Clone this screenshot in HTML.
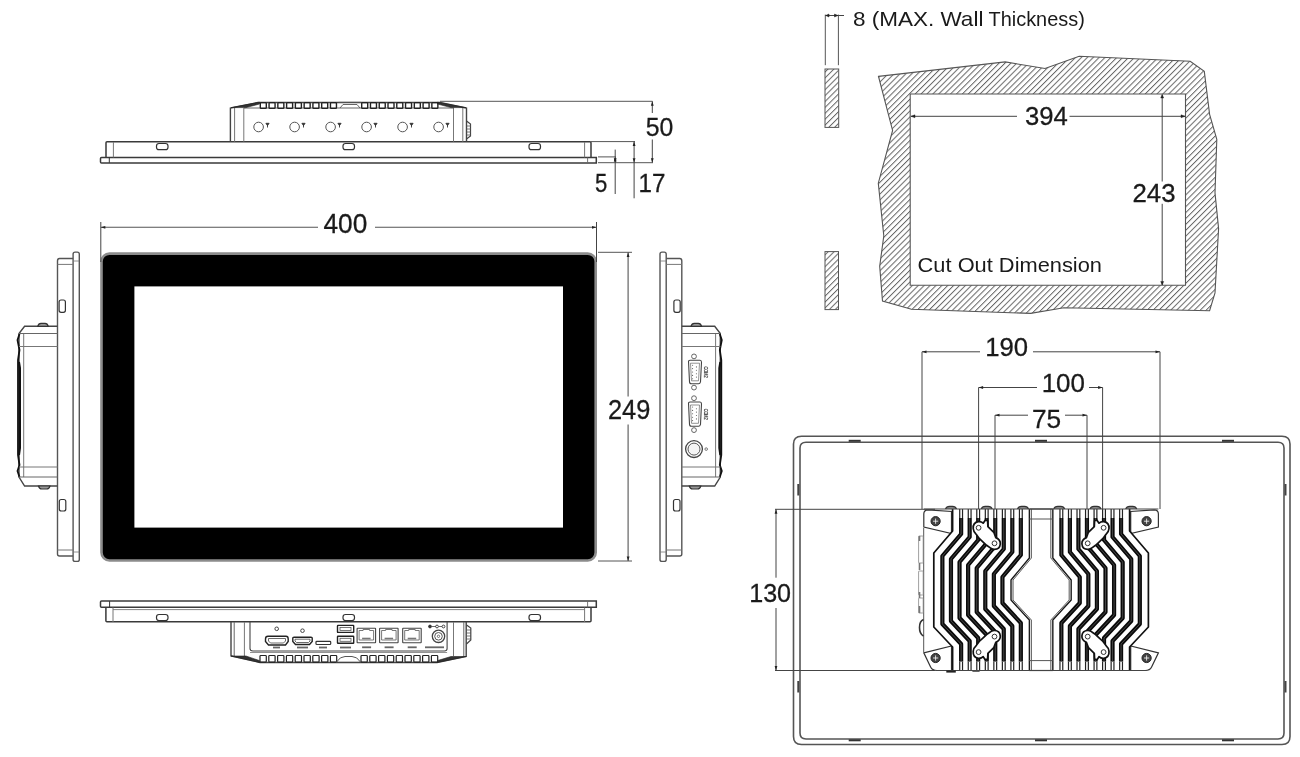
<!DOCTYPE html>
<html><head><meta charset="utf-8"><style>
html,body{margin:0;padding:0;background:#fff;}
svg{display:block;will-change:transform;}
text{font-family:"Liberation Sans",sans-serif;}
</style></head><body>
<svg width="1300" height="757" viewBox="0 0 1300 757">
<rect width="1300" height="757" fill="#fff"/>
<path d="M101.5,157.4 H596.3 V162.9 H101.5 Q100.5,162.9 100.5,161.9 V158.4 Q100.5,157.4 101.5,157.4 Z" fill="none" stroke="#3a3a3a" stroke-width="1.5" />
<line x1="109.3" y1="157.4" x2="109.3" y2="162.9" stroke="#333" stroke-width="1.0"/>
<line x1="587.6" y1="157.4" x2="587.6" y2="162.9" stroke="#666" stroke-width="0.9"/>
<path d="M107,141.7 H590 Q591,141.7 591,142.7 V157.4 M106,157.4 V142.7 Q106,141.7 107,141.7" fill="none" stroke="#3a3a3a" stroke-width="1.5" />
<line x1="113.4" y1="142" x2="113.4" y2="157.4" stroke="#777" stroke-width="1"/>
<line x1="584.6" y1="142" x2="584.6" y2="157.4" stroke="#777" stroke-width="1"/>
<rect x="156.5" y="143.5" width="11.5" height="6.2" rx="2.5" fill="none" stroke="#333" stroke-width="1.2"/>
<rect x="343" y="143.5" width="11.5" height="6.2" rx="2.5" fill="none" stroke="#333" stroke-width="1.2"/>
<rect x="529" y="143.5" width="11.5" height="6.2" rx="2.5" fill="none" stroke="#333" stroke-width="1.2"/>
<path d="M230.4,141.7 V108 L258,102.5 H440 L466.5,108 V141.7" fill="none" stroke="#444" stroke-width="1.4" />
<line x1="234.6" y1="108" x2="234.6" y2="141.7" stroke="#777" stroke-width="1"/>
<line x1="243.8" y1="108" x2="243.8" y2="141.7" stroke="#777" stroke-width="1"/>
<line x1="453.5" y1="108" x2="453.5" y2="141.7" stroke="#777" stroke-width="1"/>
<line x1="462.8" y1="108" x2="462.8" y2="141.7" stroke="#777" stroke-width="1"/>
<line x1="244" y1="108" x2="454" y2="108" stroke="#666" stroke-width="1"/>
<path d="M231,107.6 L259.5,102.2 L259.5,104 L246,107.6 Z" fill="#333" stroke="#222" stroke-width="0.6" />
<path d="M466,107.6 L437.5,102.2 L437.5,104 L451,107.6 Z" fill="#333" stroke="#222" stroke-width="0.6" />
<path d="M338.5,102.4 H361 M340,108 L343,104.5 H357 L360,108" fill="none" stroke="#555" stroke-width="0.9" />
<rect x="260.3" y="102.6" width="6" height="5.8" rx="0.8" fill="none" stroke="#222" stroke-width="1.4"/>
<rect x="269.07" y="102.6" width="6" height="5.8" rx="0.8" fill="none" stroke="#222" stroke-width="1.4"/>
<rect x="277.84000000000003" y="102.6" width="6" height="5.8" rx="0.8" fill="none" stroke="#222" stroke-width="1.4"/>
<rect x="286.61" y="102.6" width="6" height="5.8" rx="0.8" fill="none" stroke="#222" stroke-width="1.4"/>
<rect x="295.38" y="102.6" width="6" height="5.8" rx="0.8" fill="none" stroke="#222" stroke-width="1.4"/>
<rect x="304.15000000000003" y="102.6" width="6" height="5.8" rx="0.8" fill="none" stroke="#222" stroke-width="1.4"/>
<rect x="312.92" y="102.6" width="6" height="5.8" rx="0.8" fill="none" stroke="#222" stroke-width="1.4"/>
<rect x="321.69" y="102.6" width="6" height="5.8" rx="0.8" fill="none" stroke="#222" stroke-width="1.4"/>
<rect x="330.46" y="102.6" width="6" height="5.8" rx="0.8" fill="none" stroke="#222" stroke-width="1.4"/>
<rect x="361.7" y="102.6" width="6" height="5.8" rx="0.8" fill="none" stroke="#222" stroke-width="1.4"/>
<rect x="370.46999999999997" y="102.6" width="6" height="5.8" rx="0.8" fill="none" stroke="#222" stroke-width="1.4"/>
<rect x="379.24" y="102.6" width="6" height="5.8" rx="0.8" fill="none" stroke="#222" stroke-width="1.4"/>
<rect x="388.01" y="102.6" width="6" height="5.8" rx="0.8" fill="none" stroke="#222" stroke-width="1.4"/>
<rect x="396.78" y="102.6" width="6" height="5.8" rx="0.8" fill="none" stroke="#222" stroke-width="1.4"/>
<rect x="405.55" y="102.6" width="6" height="5.8" rx="0.8" fill="none" stroke="#222" stroke-width="1.4"/>
<rect x="414.32" y="102.6" width="6" height="5.8" rx="0.8" fill="none" stroke="#222" stroke-width="1.4"/>
<rect x="423.09" y="102.6" width="6" height="5.8" rx="0.8" fill="none" stroke="#222" stroke-width="1.4"/>
<rect x="431.85999999999996" y="102.6" width="6" height="5.8" rx="0.8" fill="none" stroke="#222" stroke-width="1.4"/>
<circle cx="258.6" cy="127" r="4.8" fill="none" stroke="#555" stroke-width="1.0"/>
<path d="M265.90000000000003,123.3 H269.1 L267.5,125.6 Z M267.5,125 V127.5" fill="#333" stroke="#333" stroke-width="0.9" />
<circle cx="294.6" cy="127" r="4.8" fill="none" stroke="#555" stroke-width="1.0"/>
<path d="M301.90000000000003,123.3 H305.1 L303.5,125.6 Z M303.5,125 V127.5" fill="#333" stroke="#333" stroke-width="0.9" />
<circle cx="330.6" cy="127" r="4.8" fill="none" stroke="#555" stroke-width="1.0"/>
<path d="M337.90000000000003,123.3 H341.1 L339.5,125.6 Z M339.5,125 V127.5" fill="#333" stroke="#333" stroke-width="0.9" />
<circle cx="366.6" cy="127" r="4.8" fill="none" stroke="#555" stroke-width="1.0"/>
<path d="M373.90000000000003,123.3 H377.1 L375.5,125.6 Z M375.5,125 V127.5" fill="#333" stroke="#333" stroke-width="0.9" />
<circle cx="402.6" cy="127" r="4.8" fill="none" stroke="#555" stroke-width="1.0"/>
<path d="M409.90000000000003,123.3 H413.1 L411.5,125.6 Z M411.5,125 V127.5" fill="#333" stroke="#333" stroke-width="0.9" />
<circle cx="438.6" cy="127" r="4.8" fill="none" stroke="#555" stroke-width="1.0"/>
<path d="M445.90000000000003,123.3 H449.1 L447.5,125.6 Z M447.5,125 V127.5" fill="#333" stroke="#333" stroke-width="0.9" />
<path d="M466.5,121 L470.5,124 V136 L466.5,139" fill="none" stroke="#444" stroke-width="1.2" />
<line x1="466.5" y1="126" x2="471" y2="126" stroke="#555" stroke-width="0.8"/>
<line x1="466.5" y1="129" x2="471" y2="129" stroke="#555" stroke-width="0.8"/>
<line x1="466.5" y1="132" x2="471" y2="132" stroke="#555" stroke-width="0.8"/>
<line x1="466.5" y1="135" x2="471" y2="135" stroke="#555" stroke-width="0.8"/>
<line x1="440" y1="101.3" x2="652.5" y2="101.3" stroke="#555" stroke-width="1"/>
<line x1="652.3" y1="101.3" x2="652.3" y2="113" stroke="#444" stroke-width="1"/>
<line x1="652.3" y1="139.5" x2="652.3" y2="162.7" stroke="#444" stroke-width="1"/>
<line x1="591" y1="141.6" x2="635" y2="141.6" stroke="#555" stroke-width="1"/>
<line x1="598" y1="156.9" x2="616" y2="156.9" stroke="#555" stroke-width="1"/>
<line x1="598" y1="162.7" x2="653" y2="162.7" stroke="#555" stroke-width="1"/>
<line x1="634.1" y1="141.6" x2="634.1" y2="198.3" stroke="#444" stroke-width="1"/>
<line x1="615.2" y1="149.6" x2="615.2" y2="194" stroke="#444" stroke-width="1"/>
<path d="M652.30,101.30 L650.90,105.80 L653.70,105.80 Z" fill="#222"/>
<path d="M652.30,162.70 L650.90,158.20 L653.70,158.20 Z" fill="#222"/>
<path d="M634.10,141.60 L632.70,146.10 L635.50,146.10 Z" fill="#222"/>
<path d="M634.10,162.70 L632.70,158.20 L635.50,158.20 Z" fill="#222"/>
<path d="M615.20,156.90 L613.80,161.40 L616.60,161.40 Z" fill="#222"/>
<path d="M615.20,162.70 L613.80,158.20 L616.60,158.20 Z" fill="#222"/>
<text x="645.8" y="135.9" font-size="26" fill="#1a1a1a" stroke="#1a1a1a" stroke-width="0.3" textLength="27.600000000000023" lengthAdjust="spacingAndGlyphs" >50</text>
<text x="594.9" y="191.7" font-size="26" fill="#1a1a1a" stroke="#1a1a1a" stroke-width="0.3" textLength="12.300000000000068" lengthAdjust="spacingAndGlyphs" >5</text>
<text x="638.5" y="191.7" font-size="26" fill="#1a1a1a" stroke="#1a1a1a" stroke-width="0.3" textLength="26.899999999999977" lengthAdjust="spacingAndGlyphs" >17</text>
<rect x="101.5" y="253.6" width="494.2" height="306.9" rx="8" fill="#000" stroke="#8c8c8c" stroke-width="2.6"/>
<rect x="134.4" y="286.4" width="428.6" height="241.2" rx="0" fill="#fff" stroke="none" stroke-width="0"/>
<line x1="100.8" y1="222" x2="100.8" y2="262" stroke="#444" stroke-width="1"/>
<line x1="596.5" y1="222" x2="596.5" y2="262" stroke="#444" stroke-width="1"/>
<line x1="100.8" y1="227.3" x2="318" y2="227.3" stroke="#555" stroke-width="1.1"/>
<line x1="375" y1="227.3" x2="596.5" y2="227.3" stroke="#555" stroke-width="1.1"/>
<path d="M100.80,227.30 L105.30,225.90 L105.30,228.70 Z" fill="#222"/>
<path d="M596.50,227.30 L592.00,225.90 L592.00,228.70 Z" fill="#222"/>
<text x="323.5" y="232.7" font-size="27" fill="#1a1a1a" stroke="#1a1a1a" stroke-width="0.3" textLength="43.80000000000001" lengthAdjust="spacingAndGlyphs" >400</text>
<line x1="598" y1="252.3" x2="632" y2="252.3" stroke="#555" stroke-width="1"/>
<line x1="598" y1="561" x2="632" y2="561" stroke="#555" stroke-width="1"/>
<line x1="628.1" y1="252.3" x2="628.1" y2="396.6" stroke="#555" stroke-width="1.1"/>
<line x1="628.1" y1="424.4" x2="628.1" y2="561" stroke="#555" stroke-width="1.1"/>
<path d="M628.10,252.60 L626.70,257.10 L629.50,257.10 Z" fill="#222"/>
<path d="M628.10,561.00 L626.70,556.50 L629.50,556.50 Z" fill="#222"/>
<text x="607.9" y="419.2" font-size="27" fill="#1a1a1a" stroke="#1a1a1a" stroke-width="0.3" textLength="42.39999999999998" lengthAdjust="spacingAndGlyphs" >249</text>
<rect x="73.1" y="252.1" width="6.2" height="309.3" rx="2" fill="none" stroke="#555" stroke-width="1.4"/><line x1="73.1" y1="261" x2="79.3" y2="261" stroke="#777" stroke-width="0.8"/><line x1="73.1" y1="552" x2="79.3" y2="552" stroke="#777" stroke-width="0.8"/><path d="M73.1,258.5 H59.5 Q57.5,258.5 57.5,261 V554 Q57.5,556 59.5,556 H73.1" fill="none" stroke="#555" stroke-width="1.4" /><line x1="57.5" y1="264.4" x2="73.1" y2="264.4" stroke="#777" stroke-width="1"/><line x1="57.5" y1="550" x2="73.1" y2="550" stroke="#777" stroke-width="1"/><rect x="59.1" y="300" width="6.3" height="12.3" rx="2" fill="none" stroke="#333" stroke-width="1.2"/><rect x="59.3" y="499.5" width="6.5" height="11.5" rx="2" fill="none" stroke="#333" stroke-width="1.2"/><path d="M57.5,326.3 H24.6 L19,333.5 V477 L24.6,486 H57.5" fill="none" stroke="#444" stroke-width="1.4" /><path d="M19.5,334 L17.5,340 L19.5,350 L18,360 V455 L19.5,465 L17.5,471 L19.5,477" fill="none" stroke="#111" stroke-width="1.8" /><path d="M19,362 L20,368 V448 L19,455" fill="none" stroke="#111" stroke-width="2.0" /><line x1="23.7" y1="333" x2="23.7" y2="477" stroke="#777" stroke-width="1"/><line x1="19" y1="333.5" x2="57.5" y2="333.5" stroke="#666" stroke-width="1"/><line x1="19" y1="346.5" x2="57.5" y2="346.5" stroke="#777" stroke-width="1"/><line x1="19" y1="467" x2="57.5" y2="467" stroke="#777" stroke-width="1"/><line x1="19" y1="477" x2="57.5" y2="477" stroke="#666" stroke-width="1"/><path d="M37.7,326.3 Q38.5,323.3 41,323.3 H45 Q47.5,323.3 48.3,326.3 Z" fill="#999" stroke="#333" stroke-width="1.2" /><path d="M38.5,486 Q39.3,489 41.8,489 H46.7 Q49.2,489 50,486 Z" fill="#999" stroke="#333" stroke-width="1.2" />
<g transform="translate(739.3,0) scale(-1,1)"><rect x="73.1" y="252.1" width="6.2" height="309.3" rx="2" fill="none" stroke="#555" stroke-width="1.4"/><line x1="73.1" y1="261" x2="79.3" y2="261" stroke="#777" stroke-width="0.8"/><line x1="73.1" y1="552" x2="79.3" y2="552" stroke="#777" stroke-width="0.8"/><path d="M73.1,258.5 H59.5 Q57.5,258.5 57.5,261 V554 Q57.5,556 59.5,556 H73.1" fill="none" stroke="#555" stroke-width="1.4" /><line x1="57.5" y1="264.4" x2="73.1" y2="264.4" stroke="#777" stroke-width="1"/><line x1="57.5" y1="550" x2="73.1" y2="550" stroke="#777" stroke-width="1"/><rect x="59.1" y="300" width="6.3" height="12.3" rx="2" fill="none" stroke="#333" stroke-width="1.2"/><rect x="59.3" y="499.5" width="6.5" height="11.5" rx="2" fill="none" stroke="#333" stroke-width="1.2"/><path d="M57.5,326.3 H24.6 L19,333.5 V477 L24.6,486 H57.5" fill="none" stroke="#444" stroke-width="1.4" /><path d="M19.5,334 L17.5,340 L19.5,350 L18,360 V455 L19.5,465 L17.5,471 L19.5,477" fill="none" stroke="#111" stroke-width="1.8" /><path d="M19,362 L20,368 V448 L19,455" fill="none" stroke="#111" stroke-width="2.0" /><line x1="23.7" y1="333" x2="23.7" y2="477" stroke="#777" stroke-width="1"/><line x1="19" y1="333.5" x2="57.5" y2="333.5" stroke="#666" stroke-width="1"/><line x1="19" y1="346.5" x2="57.5" y2="346.5" stroke="#777" stroke-width="1"/><line x1="19" y1="467" x2="57.5" y2="467" stroke="#777" stroke-width="1"/><line x1="19" y1="477" x2="57.5" y2="477" stroke="#666" stroke-width="1"/><path d="M37.7,326.3 Q38.5,323.3 41,323.3 H45 Q47.5,323.3 48.3,326.3 Z" fill="#999" stroke="#333" stroke-width="1.2" /><path d="M38.5,486 Q39.3,489 41.8,489 H46.7 Q49.2,489 50,486 Z" fill="#999" stroke="#333" stroke-width="1.2" /></g>
<path d="M688.5,361.2 Q688.5,360.2 690,360.2 H700 Q701.5,360.2 701.5,362.2 L700.5,381.8 Q700,383.8 698.5,383.8 H691.5 Q689.5,383.8 689.5,381.8 Z" fill="none" stroke="#444" stroke-width="1.1" />
<path d="M690.5,363.2 H699.5 L698.5,380.8 H691.5 Z" fill="none" stroke="#666" stroke-width="0.7" />
<circle cx="694" cy="356.4" r="2.4" fill="none" stroke="#555" stroke-width="0.9"/>
<circle cx="694" cy="387.6" r="2.4" fill="none" stroke="#555" stroke-width="0.9"/>
<circle cx="692.6" cy="365.2" r="0.55" fill="#555" stroke="none" stroke-width="0"/>
<circle cx="692.6" cy="368.59999999999997" r="0.55" fill="#555" stroke="none" stroke-width="0"/>
<circle cx="692.6" cy="372.0" r="0.55" fill="#555" stroke="none" stroke-width="0"/>
<circle cx="692.6" cy="375.4" r="0.55" fill="#555" stroke="none" stroke-width="0"/>
<circle cx="692.6" cy="378.8" r="0.55" fill="#555" stroke="none" stroke-width="0"/>
<circle cx="696.4" cy="366.9" r="0.55" fill="#555" stroke="none" stroke-width="0"/>
<circle cx="696.4" cy="370.29999999999995" r="0.55" fill="#555" stroke="none" stroke-width="0"/>
<circle cx="696.4" cy="373.7" r="0.55" fill="#555" stroke="none" stroke-width="0"/>
<circle cx="696.4" cy="377.09999999999997" r="0.55" fill="#555" stroke="none" stroke-width="0"/>
<text x="0" y="0" font-size="5" fill="#333" stroke="#333" stroke-width="0.2" transform="translate(703.6,366.5) rotate(90)" textLength="11" lengthAdjust="spacingAndGlyphs">COM2</text>
<path d="M688.5,403 Q688.5,402 690,402 H700 Q701.5,402 701.5,404 L700.5,424.3 Q700,426.3 698.5,426.3 H691.5 Q689.5,426.3 689.5,424.3 Z" fill="none" stroke="#444" stroke-width="1.1" />
<path d="M690.5,405 H699.5 L698.5,423.3 H691.5 Z" fill="none" stroke="#666" stroke-width="0.7" />
<circle cx="694" cy="398.2" r="2.4" fill="none" stroke="#555" stroke-width="0.9"/>
<circle cx="694" cy="430.1" r="2.4" fill="none" stroke="#555" stroke-width="0.9"/>
<circle cx="692.6" cy="407.0" r="0.55" fill="#555" stroke="none" stroke-width="0"/>
<circle cx="692.6" cy="410.4" r="0.55" fill="#555" stroke="none" stroke-width="0"/>
<circle cx="692.6" cy="413.8" r="0.55" fill="#555" stroke="none" stroke-width="0"/>
<circle cx="692.6" cy="417.2" r="0.55" fill="#555" stroke="none" stroke-width="0"/>
<circle cx="692.6" cy="420.6" r="0.55" fill="#555" stroke="none" stroke-width="0"/>
<circle cx="696.4" cy="408.7" r="0.55" fill="#555" stroke="none" stroke-width="0"/>
<circle cx="696.4" cy="412.09999999999997" r="0.55" fill="#555" stroke="none" stroke-width="0"/>
<circle cx="696.4" cy="415.5" r="0.55" fill="#555" stroke="none" stroke-width="0"/>
<circle cx="696.4" cy="418.9" r="0.55" fill="#555" stroke="none" stroke-width="0"/>
<text x="0" y="0" font-size="5" fill="#333" stroke="#333" stroke-width="0.2" transform="translate(703.6,408.65) rotate(90)" textLength="11" lengthAdjust="spacingAndGlyphs">COM2</text>
<circle cx="694" cy="449.1" r="8.4" fill="none" stroke="#444" stroke-width="1.3"/>
<circle cx="694" cy="449.1" r="6.0" fill="#f4f4f4" stroke="#555" stroke-width="1"/>
<circle cx="706.2" cy="449.1" r="1.3" fill="none" stroke="#555" stroke-width="0.8"/>
<path d="M101.5,601.1 H596.3 V607.3 H101.5 Q100.5,607.3 100.5,606.3 V602.1 Q100.5,601.1 101.5,601.1 Z" fill="none" stroke="#3a3a3a" stroke-width="1.5" />
<line x1="109.6" y1="601.1" x2="109.6" y2="607.3" stroke="#333" stroke-width="1.0"/>
<line x1="113" y1="609.6" x2="584.6" y2="609.6" stroke="#777" stroke-width="0.9"/>
<line x1="587.6" y1="601" x2="587.6" y2="607.5" stroke="#666" stroke-width="0.9"/>
<path d="M105.9,607.3 V620.7 Q105.9,621.7 106.9,621.7 H590 Q591,621.7 591,620.7 V607.3" fill="none" stroke="#3a3a3a" stroke-width="1.5" />
<line x1="113" y1="607.5" x2="113" y2="622" stroke="#777" stroke-width="1"/>
<line x1="584.6" y1="607.5" x2="584.6" y2="622" stroke="#777" stroke-width="1"/>
<rect x="156.5" y="614.5" width="11.5" height="6.1" rx="2.5" fill="none" stroke="#333" stroke-width="1.2"/>
<rect x="343" y="614.5" width="11.5" height="6.1" rx="2.5" fill="none" stroke="#333" stroke-width="1.2"/>
<rect x="529" y="614.5" width="11.5" height="6.1" rx="2.5" fill="none" stroke="#333" stroke-width="1.2"/>
<path d="M231,622 V656 L260,662.5 H437 L466.2,656.5 V622" fill="none" stroke="#444" stroke-width="1.4" />
<line x1="234.2" y1="622" x2="234.2" y2="656" stroke="#666" stroke-width="1"/>
<line x1="244.4" y1="622" x2="244.4" y2="656" stroke="#777" stroke-width="1"/>
<line x1="453.5" y1="622" x2="453.5" y2="656" stroke="#777" stroke-width="1"/>
<line x1="463.8" y1="622" x2="463.8" y2="656" stroke="#666" stroke-width="1"/>
<path d="M250,622 V648.5 Q250,651 253,651 H444.5 Q447.1,651 447.1,648.5 V622" fill="none" stroke="#444" stroke-width="1.1" />
<line x1="250" y1="652.5" x2="447.1" y2="652.5" stroke="#777" stroke-width="0.8"/>
<rect x="260.0" y="655.5" width="6.3" height="6.6" rx="0.8" fill="none" stroke="#222" stroke-width="1.2"/>
<rect x="268.8" y="655.5" width="6.3" height="6.6" rx="0.8" fill="none" stroke="#222" stroke-width="1.2"/>
<rect x="277.6" y="655.5" width="6.3" height="6.6" rx="0.8" fill="none" stroke="#222" stroke-width="1.2"/>
<rect x="286.4" y="655.5" width="6.3" height="6.6" rx="0.8" fill="none" stroke="#222" stroke-width="1.2"/>
<rect x="295.2" y="655.5" width="6.3" height="6.6" rx="0.8" fill="none" stroke="#222" stroke-width="1.2"/>
<rect x="304.0" y="655.5" width="6.3" height="6.6" rx="0.8" fill="none" stroke="#222" stroke-width="1.2"/>
<rect x="312.8" y="655.5" width="6.3" height="6.6" rx="0.8" fill="none" stroke="#222" stroke-width="1.2"/>
<rect x="321.6" y="655.5" width="6.3" height="6.6" rx="0.8" fill="none" stroke="#222" stroke-width="1.2"/>
<rect x="330.4" y="655.5" width="6.3" height="6.6" rx="0.8" fill="none" stroke="#222" stroke-width="1.2"/>
<rect x="361.0" y="655.5" width="6.3" height="6.6" rx="0.8" fill="none" stroke="#222" stroke-width="1.2"/>
<rect x="369.8" y="655.5" width="6.3" height="6.6" rx="0.8" fill="none" stroke="#222" stroke-width="1.2"/>
<rect x="378.6" y="655.5" width="6.3" height="6.6" rx="0.8" fill="none" stroke="#222" stroke-width="1.2"/>
<rect x="387.4" y="655.5" width="6.3" height="6.6" rx="0.8" fill="none" stroke="#222" stroke-width="1.2"/>
<rect x="396.2" y="655.5" width="6.3" height="6.6" rx="0.8" fill="none" stroke="#222" stroke-width="1.2"/>
<rect x="405.0" y="655.5" width="6.3" height="6.6" rx="0.8" fill="none" stroke="#222" stroke-width="1.2"/>
<rect x="413.8" y="655.5" width="6.3" height="6.6" rx="0.8" fill="none" stroke="#222" stroke-width="1.2"/>
<rect x="422.6" y="655.5" width="6.3" height="6.6" rx="0.8" fill="none" stroke="#222" stroke-width="1.2"/>
<rect x="431.4" y="655.5" width="6.3" height="6.6" rx="0.8" fill="none" stroke="#222" stroke-width="1.2"/>
<path d="M336.5,662 Q340,656.5 345,656.5 H352 Q357,656.5 360.5,662" fill="none" stroke="#555" stroke-width="1" />
<path d="M231,656 L259.5,662.4 L259.5,660.6 L246,656 Z" fill="#333" stroke="#222" stroke-width="0.6" />
<path d="M466.2,656.5 L437.5,662.4 L437.5,660.6 L451,656.5 Z" fill="#333" stroke="#222" stroke-width="0.6" />
<line x1="336" y1="662.4" x2="361" y2="662.4" stroke="#444" stroke-width="1.0"/>
<path d="M466.5,625 L470.8,628 V640 L466.5,644" fill="none" stroke="#444" stroke-width="1.2" />
<line x1="466.5" y1="630" x2="471" y2="630" stroke="#555" stroke-width="0.8"/>
<line x1="466.5" y1="633" x2="471" y2="633" stroke="#555" stroke-width="0.8"/>
<line x1="466.5" y1="636" x2="471" y2="636" stroke="#555" stroke-width="0.8"/>
<line x1="466.5" y1="639" x2="471" y2="639" stroke="#555" stroke-width="0.8"/>
<path d="M265.5,639 Q265.5,636.3 268,636.3 H286 Q288.2,636.3 288.2,639 V641.5 L285.5,645 H268.5 L265.5,641.5 Z" fill="none" stroke="#222" stroke-width="1.4" />
<path d="M268.5,638.5 H285.5 V641 L283.5,643 H270.5 L268.5,641 Z" fill="none" stroke="#444" stroke-width="0.8" />
<circle cx="276.7" cy="628.8" r="1.8" fill="none" stroke="#444" stroke-width="1"/>
<path d="M292.8,638 Q292.8,637.2 294,637.2 H311 Q312.2,637.2 312.2,638 V641.5 L309.5,644.5 H295.5 L292.8,641.5 Z" fill="none" stroke="#222" stroke-width="1.4" />
<path d="M295,639.2 H310 V641 L308.5,642.5 H296.5 L295,641 Z" fill="none" stroke="#444" stroke-width="0.8" />
<circle cx="302.5" cy="630.7" r="1.8" fill="none" stroke="#444" stroke-width="1"/>
<rect x="316" y="641.3" width="14.7" height="3.2" rx="0.8" fill="none" stroke="#333" stroke-width="1.2"/>
<line x1="273" y1="647.5" x2="280" y2="647.5" stroke="#666" stroke-width="1.8"/>
<line x1="297" y1="647.5" x2="308" y2="647.5" stroke="#666" stroke-width="1.8"/>
<line x1="319" y1="647.5" x2="327" y2="647.5" stroke="#666" stroke-width="1.8"/>
<line x1="340" y1="647.5" x2="351" y2="647.5" stroke="#666" stroke-width="1.8"/>
<rect x="337.5" y="625.4" width="16.2" height="7" rx="0.5" fill="none" stroke="#222" stroke-width="1.4"/>
<rect x="340" y="627.4" width="11" height="3" rx="0" fill="none" stroke="#555" stroke-width="0.8"/>
<rect x="337.5" y="636.3" width="16.2" height="7" rx="0.5" fill="none" stroke="#222" stroke-width="1.4"/>
<rect x="340" y="638.3" width="11" height="3" rx="0" fill="none" stroke="#555" stroke-width="0.8"/>
<rect x="357.1" y="628.3" width="18.5" height="14.4" rx="0.5" fill="none" stroke="#444" stroke-width="1.1"/>
<path d="M359.1,630.5 H363.1 V629.5 H369.6 V630.5 H373.6 V640 H359.1 Z" fill="none" stroke="#555" stroke-width="0.8" />
<line x1="362.1" y1="638.5" x2="370.6" y2="638.5" stroke="#777" stroke-width="1.6"/>
<line x1="362.1" y1="647.3" x2="371.1" y2="647.3" stroke="#666" stroke-width="1.8"/>
<rect x="379.6" y="628.3" width="18.5" height="14.4" rx="0.5" fill="none" stroke="#444" stroke-width="1.1"/>
<path d="M381.6,630.5 H385.6 V629.5 H392.1 V630.5 H396.1 V640 H381.6 Z" fill="none" stroke="#555" stroke-width="0.8" />
<line x1="384.6" y1="638.5" x2="393.1" y2="638.5" stroke="#777" stroke-width="1.6"/>
<line x1="384.6" y1="647.3" x2="393.6" y2="647.3" stroke="#666" stroke-width="1.8"/>
<rect x="402.7" y="628.3" width="18.5" height="14.4" rx="0.5" fill="none" stroke="#444" stroke-width="1.1"/>
<path d="M404.7,630.5 H408.7 V629.5 H415.2 V630.5 H419.2 V640 H404.7 Z" fill="none" stroke="#555" stroke-width="0.8" />
<line x1="407.7" y1="638.5" x2="416.2" y2="638.5" stroke="#777" stroke-width="1.6"/>
<line x1="407.7" y1="647.3" x2="416.7" y2="647.3" stroke="#666" stroke-width="1.8"/>
<circle cx="438.5" cy="636.3" r="6.2" fill="none" stroke="#444" stroke-width="1.3"/>
<circle cx="438.5" cy="636.3" r="3.8" fill="none" stroke="#555" stroke-width="1"/>
<circle cx="438.5" cy="636.3" r="1.2" fill="none" stroke="#555" stroke-width="0.8"/>
<circle cx="430" cy="626.5" r="1.4" fill="#333" stroke="#333" stroke-width="1"/>
<circle cx="437" cy="626.5" r="1.4" fill="none" stroke="#444" stroke-width="1"/>
<circle cx="443.5" cy="626.5" r="1.4" fill="none" stroke="#444" stroke-width="1"/>
<line x1="431.5" y1="626.5" x2="436" y2="626.5" stroke="#444" stroke-width="0.8"/>
<line x1="438.5" y1="626.5" x2="442" y2="626.5" stroke="#444" stroke-width="0.8"/>
<line x1="425" y1="647.3" x2="444" y2="647.3" stroke="#666" stroke-width="1.8"/>
<defs><pattern id="hatch" patternUnits="userSpaceOnUse" width="4.17" height="4.17" patternTransform="rotate(45)"><rect width="4.17" height="4.17" fill="#fff"/><line x1="0.5" y1="0" x2="0.5" y2="4.17" stroke="#666" stroke-width="1.0"/></pattern></defs>
<rect x="825" y="69" width="13.7" height="58.4" rx="0" fill="url(#hatch)" stroke="#555" stroke-width="1"/>
<rect x="825" y="251.6" width="13.5" height="58" rx="0" fill="url(#hatch)" stroke="#555" stroke-width="1"/>
<line x1="825.3" y1="14.6" x2="825.3" y2="65.2" stroke="#555" stroke-width="1"/>
<line x1="838.4" y1="14.6" x2="838.4" y2="65.2" stroke="#555" stroke-width="1"/>
<line x1="825.3" y1="15.5" x2="844" y2="15.5" stroke="#444" stroke-width="1"/>
<path d="M829,14 L825.8,15.5 L829,17 Z" fill="#222" stroke="#222" stroke-width="0.5" />
<path d="M834.5,14 L837.8,15.5 L834.5,17 Z" fill="#222" stroke="#222" stroke-width="0.5" />
<text x="852.9" y="25.8" font-size="21" fill="#1a1a1a" stroke="#1a1a1a" stroke-width="0.0" textLength="130.5" lengthAdjust="spacingAndGlyphs" >8 (MAX. Wall</text>
<text x="988.5" y="25.8" font-size="21" fill="#1a1a1a" stroke="#1a1a1a" stroke-width="0.0" textLength="96.29999999999995" lengthAdjust="spacingAndGlyphs" >Thickness)</text>
<path d="M878.5,76.4 L1005.2,61.9 L1045,68.5 L1079.2,56.2 L1190.2,61.3 L1204.3,71.4 L1209.6,114.3 L1216.8,139.3 L1215,192.9 L1218.6,228.6 L1215,292.9 L1209.6,310.7 L1063.9,307.8 L1030.6,313.4 L911.5,309.2 L882.5,301 L879.7,266.3 L883.8,235.8 L878.3,183.2 L892.6,130.4 Z M910.2,94 H1185.5 V285.3 H910.2 Z" fill="url(#hatch)" stroke="#555" stroke-width="1.1" fill-rule="evenodd"/>
<line x1="911" y1="116.3" x2="1017" y2="116.3" stroke="#444" stroke-width="1"/>
<line x1="1069.5" y1="116.3" x2="1185" y2="116.3" stroke="#444" stroke-width="1"/>
<path d="M915,114.8 L911,116.3 L915,117.8 Z" fill="#222" stroke="#222" stroke-width="0.4" />
<path d="M1181,114.8 L1185,116.3 L1181,117.8 Z" fill="#222" stroke="#222" stroke-width="0.4" />
<text x="1025" y="125.4" font-size="26" fill="#1a1a1a" stroke="#1a1a1a" stroke-width="0.3" textLength="42.799999999999955" lengthAdjust="spacingAndGlyphs" >394</text>
<line x1="1162.2" y1="94.5" x2="1162.2" y2="181.5" stroke="#444" stroke-width="1"/>
<line x1="1162.2" y1="203.8" x2="1162.2" y2="285" stroke="#444" stroke-width="1"/>
<path d="M1160.7,98 L1162.2,94.5 L1163.7,98 Z" fill="#222" stroke="#222" stroke-width="0.4" />
<path d="M1160.7,281.5 L1162.2,285 L1163.7,281.5 Z" fill="#222" stroke="#222" stroke-width="0.4" />
<text x="1132.5" y="202.1" font-size="26" fill="#1a1a1a" stroke="#1a1a1a" stroke-width="0.3" textLength="43.0" lengthAdjust="spacingAndGlyphs" >243</text>
<text x="917.6" y="271.8" font-size="21" fill="#1a1a1a" stroke="#1a1a1a" stroke-width="0.0" textLength="184.39999999999998" lengthAdjust="spacingAndGlyphs" >Cut Out Dimension</text>
<path d="M801.5,436.2 H1282 Q1290,436.2 1290,444 V736.5 Q1290,744.5 1282,744.5 H801.5 Q793.5,744.5 793.5,736.5 V444 Q793.5,436.2 801.5,436.2 Z" fill="none" stroke="#555" stroke-width="1.6" />
<path d="M806,442.2 H1278 Q1284,442.2 1284,448 V733 Q1284,739 1278,739 H806 Q800,739 800,733 V448 Q800,442.2 806,442.2 Z" fill="none" stroke="#555" stroke-width="1.6" />
<line x1="848.7" y1="440.8" x2="860.7" y2="440.8" stroke="#333" stroke-width="2"/>
<line x1="848.7" y1="740.3" x2="860.7" y2="740.3" stroke="#333" stroke-width="2"/>
<line x1="1035" y1="440.8" x2="1047" y2="440.8" stroke="#333" stroke-width="2"/>
<line x1="1035" y1="740.3" x2="1047" y2="740.3" stroke="#333" stroke-width="2"/>
<line x1="1222" y1="440.8" x2="1234" y2="440.8" stroke="#333" stroke-width="2"/>
<line x1="1222" y1="740.3" x2="1234" y2="740.3" stroke="#333" stroke-width="2"/>
<line x1="798.3" y1="484" x2="798.3" y2="495.5" stroke="#444" stroke-width="2"/>
<line x1="1285.5" y1="484" x2="1285.5" y2="495.5" stroke="#444" stroke-width="2"/>
<line x1="798.3" y1="681" x2="798.3" y2="692.5" stroke="#444" stroke-width="2"/>
<line x1="1285.5" y1="681" x2="1285.5" y2="692.5" stroke="#444" stroke-width="2"/>
<line x1="922" y1="351.8" x2="922" y2="509" stroke="#444" stroke-width="1"/>
<line x1="1160" y1="351.8" x2="1160" y2="509" stroke="#444" stroke-width="1"/>
<line x1="922" y1="351.8" x2="980" y2="351.8" stroke="#444" stroke-width="1"/>
<line x1="1033" y1="351.8" x2="1160" y2="351.8" stroke="#444" stroke-width="1"/>
<path d="M922.00,351.80 L926.50,350.40 L926.50,353.20 Z" fill="#222"/>
<path d="M1160.00,351.80 L1155.50,350.40 L1155.50,353.20 Z" fill="#222"/>
<text x="985.2" y="356.1" font-size="26" fill="#1a1a1a" stroke="#1a1a1a" stroke-width="0.3" textLength="42.899999999999864" lengthAdjust="spacingAndGlyphs" >190</text>
<line x1="978.6" y1="387.5" x2="978.6" y2="528" stroke="#444" stroke-width="1"/>
<line x1="1102.6" y1="387.5" x2="1102.6" y2="528" stroke="#444" stroke-width="1"/>
<line x1="978.6" y1="387.5" x2="1037" y2="387.5" stroke="#444" stroke-width="1"/>
<line x1="1089" y1="387.5" x2="1102.6" y2="387.5" stroke="#444" stroke-width="1"/>
<path d="M978.60,387.50 L983.10,386.10 L983.10,388.90 Z" fill="#222"/>
<path d="M1102.60,387.50 L1098.10,386.10 L1098.10,388.90 Z" fill="#222"/>
<text x="1041.7" y="392.4" font-size="26" fill="#1a1a1a" stroke="#1a1a1a" stroke-width="0.3" textLength="43.299999999999955" lengthAdjust="spacingAndGlyphs" >100</text>
<line x1="995" y1="415.2" x2="995" y2="543" stroke="#444" stroke-width="1"/>
<line x1="1087" y1="415.2" x2="1087" y2="543" stroke="#444" stroke-width="1"/>
<line x1="995" y1="415.2" x2="1028" y2="415.2" stroke="#444" stroke-width="1"/>
<line x1="1065" y1="415.2" x2="1087" y2="415.2" stroke="#444" stroke-width="1"/>
<path d="M995.00,415.20 L999.50,413.80 L999.50,416.60 Z" fill="#222"/>
<path d="M1087.00,415.20 L1082.50,413.80 L1082.50,416.60 Z" fill="#222"/>
<text x="1032" y="427.5" font-size="26" fill="#1a1a1a" stroke="#1a1a1a" stroke-width="0.3" textLength="29.200000000000045" lengthAdjust="spacingAndGlyphs" >75</text>
<line x1="776" y1="509.3" x2="776" y2="577.7" stroke="#444" stroke-width="1"/>
<line x1="776" y1="608" x2="776" y2="670.5" stroke="#444" stroke-width="1"/>
<line x1="775" y1="509.3" x2="935" y2="509.3" stroke="#444" stroke-width="1"/>
<line x1="775" y1="670.5" x2="935" y2="670.5" stroke="#444" stroke-width="1"/>
<path d="M776.00,509.30 L774.60,513.80 L777.40,513.80 Z" fill="#222"/>
<path d="M776.00,670.50 L774.60,666.00 L777.40,666.00 Z" fill="#222"/>
<text x="749.2" y="601.5" font-size="26" fill="#1a1a1a" stroke="#1a1a1a" stroke-width="0.3" textLength="41.89999999999998" lengthAdjust="spacingAndGlyphs" >130</text>
<path d="M923.8,527 V514 Q923.8,509.8 928,509.8 L951.5,511.5 V533.6 Z" fill="#fff" stroke="#333" stroke-width="1.2" /><circle cx="935.6" cy="521.2" r="4.6" fill="#444" stroke="#222" stroke-width="1"/><line x1="933" y1="521.2" x2="938.2" y2="521.2" stroke="#fff" stroke-width="0.8"/><line x1="935.6" y1="518.6" x2="935.6" y2="523.8" stroke="#fff" stroke-width="0.8"/><path d="M923.8,652.8 L951.5,646 V670.5 H937 Q932.3,670.5 930.6,667 Z" fill="#fff" stroke="#333" stroke-width="1.2" /><circle cx="935.6" cy="658" r="4.6" fill="#444" stroke="#222" stroke-width="1"/><line x1="933" y1="658" x2="938.2" y2="658" stroke="#fff" stroke-width="0.8"/><line x1="935.6" y1="655.4" x2="935.6" y2="660.6" stroke="#fff" stroke-width="0.8"/><path d="M945.5,509 Q946.5,506.3 949.5,506.3 H952.5 Q955.5,506.3 956.5,509" fill="#888" stroke="#333" stroke-width="1.3" /><path d="M981.2,509 Q982.2,506.3 985.2,506.3 H988.2 Q991.2,506.3 992.2,509" fill="#888" stroke="#333" stroke-width="1.3" /><path d="M1017.5,509 Q1018.5,506.3 1021.5,506.3 H1024.5 Q1027.5,506.3 1028.5,509" fill="#888" stroke="#333" stroke-width="1.3" /><path d="M952.60,509.00 L952.60,531.00 L933.80,553.00 L933.80,627.00 L952.60,647.00 L952.60,670.50 L1029.37,670.50 L1029.37,620.00 L1011.02,600.00 L1011.02,580.00 L1029.37,558.00 L1029.37,509.00 Z" fill="#fff" stroke="none" stroke-width="0" /><path d="M961.13,518.00 L961.13,534.00 L942.38,556.00 L942.38,624.00 L961.13,644.00 L961.13,661.50" fill="none" stroke="#0a0a0a" stroke-width="4.2" stroke-linejoin="round"/><path d="M961.13,518.00 L961.13,534.00 L942.38,556.00 L942.38,624.00 L961.13,644.00 L961.13,661.50" fill="none" stroke="#555" stroke-width="0.8" stroke-linejoin="round"/><path d="M959.73,509 V518 M962.53,509 V518" fill="none" stroke="#222" stroke-width="1.2" /><path d="M959.73,661.5 V670.5 M962.53,661.5 V670.5" fill="none" stroke="#222" stroke-width="1.2" /><path d="M969.66,518.00 L969.66,537.00 L950.96,559.00 L950.96,621.00 L969.66,641.00 L969.66,661.50" fill="none" stroke="#0a0a0a" stroke-width="4.2" stroke-linejoin="round"/><path d="M969.66,518.00 L969.66,537.00 L950.96,559.00 L950.96,621.00 L969.66,641.00 L969.66,661.50" fill="none" stroke="#555" stroke-width="0.8" stroke-linejoin="round"/><path d="M968.26,509 V518 M971.06,509 V518" fill="none" stroke="#222" stroke-width="1.2" /><path d="M968.26,661.5 V670.5 M971.06,661.5 V670.5" fill="none" stroke="#222" stroke-width="1.2" /><path d="M978.19,518.00 L978.19,540.00 L959.54,562.00 L959.54,618.00 L978.19,638.00 L978.19,661.50" fill="none" stroke="#0a0a0a" stroke-width="4.2" stroke-linejoin="round"/><path d="M978.19,518.00 L978.19,540.00 L959.54,562.00 L959.54,618.00 L978.19,638.00 L978.19,661.50" fill="none" stroke="#555" stroke-width="0.8" stroke-linejoin="round"/><path d="M976.7900000000001,509 V518 M979.59,509 V518" fill="none" stroke="#222" stroke-width="1.2" /><path d="M976.7900000000001,661.5 V670.5 M979.59,661.5 V670.5" fill="none" stroke="#222" stroke-width="1.2" /><path d="M986.72,518.00 L986.72,543.00 L968.12,565.00 L968.12,615.00 L986.72,635.00 L986.72,661.50" fill="none" stroke="#0a0a0a" stroke-width="4.2" stroke-linejoin="round"/><path d="M986.72,518.00 L986.72,543.00 L968.12,565.00 L968.12,615.00 L986.72,635.00 L986.72,661.50" fill="none" stroke="#555" stroke-width="0.8" stroke-linejoin="round"/><path d="M985.32,509 V518 M988.12,509 V518" fill="none" stroke="#222" stroke-width="1.2" /><path d="M985.32,661.5 V670.5 M988.12,661.5 V670.5" fill="none" stroke="#222" stroke-width="1.2" /><path d="M995.25,518.00 L995.25,546.00 L976.70,568.00 L976.70,612.00 L995.25,632.00 L995.25,661.50" fill="none" stroke="#0a0a0a" stroke-width="4.2" stroke-linejoin="round"/><path d="M995.25,518.00 L995.25,546.00 L976.70,568.00 L976.70,612.00 L995.25,632.00 L995.25,661.50" fill="none" stroke="#555" stroke-width="0.8" stroke-linejoin="round"/><path d="M993.85,509 V518 M996.65,509 V518" fill="none" stroke="#222" stroke-width="1.2" /><path d="M993.85,661.5 V670.5 M996.65,661.5 V670.5" fill="none" stroke="#222" stroke-width="1.2" /><path d="M1003.78,518.00 L1003.78,549.00 L985.28,571.00 L985.28,609.00 L1003.78,629.00 L1003.78,661.50" fill="none" stroke="#0a0a0a" stroke-width="4.2" stroke-linejoin="round"/><path d="M1003.78,518.00 L1003.78,549.00 L985.28,571.00 L985.28,609.00 L1003.78,629.00 L1003.78,661.50" fill="none" stroke="#555" stroke-width="0.8" stroke-linejoin="round"/><path d="M1002.38,509 V518 M1005.18,509 V518" fill="none" stroke="#222" stroke-width="1.2" /><path d="M1002.38,661.5 V670.5 M1005.18,661.5 V670.5" fill="none" stroke="#222" stroke-width="1.2" /><path d="M1012.31,518.00 L1012.31,552.00 L993.86,574.00 L993.86,606.00 L1012.31,626.00 L1012.31,661.50" fill="none" stroke="#0a0a0a" stroke-width="4.2" stroke-linejoin="round"/><path d="M1012.31,518.00 L1012.31,552.00 L993.86,574.00 L993.86,606.00 L1012.31,626.00 L1012.31,661.50" fill="none" stroke="#555" stroke-width="0.8" stroke-linejoin="round"/><path d="M1010.9100000000001,509 V518 M1013.71,509 V518" fill="none" stroke="#222" stroke-width="1.2" /><path d="M1010.9100000000001,661.5 V670.5 M1013.71,661.5 V670.5" fill="none" stroke="#222" stroke-width="1.2" /><path d="M1020.84,518.00 L1020.84,555.00 L1002.44,577.00 L1002.44,603.00 L1020.84,623.00 L1020.84,661.50" fill="none" stroke="#0a0a0a" stroke-width="4.2" stroke-linejoin="round"/><path d="M1020.84,518.00 L1020.84,555.00 L1002.44,577.00 L1002.44,603.00 L1020.84,623.00 L1020.84,661.50" fill="none" stroke="#555" stroke-width="0.8" stroke-linejoin="round"/><path d="M1019.44,509 V518 M1022.24,509 V518" fill="none" stroke="#222" stroke-width="1.2" /><path d="M1019.44,661.5 V670.5 M1022.24,661.5 V670.5" fill="none" stroke="#222" stroke-width="1.2" /><path d="M952.60,509.00 L952.60,531.00 L933.80,553.00 L933.80,627.00 L952.60,647.00 L952.60,670.50" fill="none" stroke="#111" stroke-width="1.7" stroke-linejoin="round"/><path d="M1029.37,509.00 L1029.37,558.00 L1011.02,580.00 L1011.02,600.00 L1029.37,620.00 L1029.37,670.50" fill="none" stroke="#1a1a1a" stroke-width="1.4" stroke-linejoin="round"/><path d="M1031.37,509.00 L1031.37,558.00 L1013.02,580.00 L1013.02,600.00 L1031.37,620.00 L1031.37,670.50" fill="none" stroke="#444" stroke-width="0.9" /><g><path d="M973.2,528.5 Q972.8,522.5 978.3,521.6 Q981.5,521.4 983.2,523.2 L985.2,520.2 L987.6,520.8 L987.9,526.6 L993.8,532.3 L995.8,537.6 Q1000.6,539.5 1000.3,544 Q999.8,549.6 994,549.4 Q991.6,549.2 990.3,547.9 L986.6,545.3 L983.4,542.3 L979.2,538.4 L976.4,534.6 Q973.4,532 973.2,528.5 Z" fill="#fff" stroke="#111" stroke-width="1.7" stroke-linejoin="round"/><circle cx="978.6" cy="527.8" r="2.4" fill="#fff" stroke="#333" stroke-width="1"/><circle cx="994.5" cy="543.3" r="2.4" fill="#fff" stroke="#333" stroke-width="1"/></g><g transform="translate(0,1179.9) scale(1,-1)"><path d="M973.2,528.5 Q972.8,522.5 978.3,521.6 Q981.5,521.4 983.2,523.2 L985.2,520.2 L987.6,520.8 L987.9,526.6 L993.8,532.3 L995.8,537.6 Q1000.6,539.5 1000.3,544 Q999.8,549.6 994,549.4 Q991.6,549.2 990.3,547.9 L986.6,545.3 L983.4,542.3 L979.2,538.4 L976.4,534.6 Q973.4,532 973.2,528.5 Z" fill="#fff" stroke="#111" stroke-width="1.7" stroke-linejoin="round"/><circle cx="978.6" cy="527.8" r="2.4" fill="#fff" stroke="#333" stroke-width="1"/><circle cx="994.5" cy="543.3" r="2.4" fill="#fff" stroke="#333" stroke-width="1"/></g>
<g transform="translate(2082.2,0) scale(-1,1)"><path d="M923.8,527 V514 Q923.8,509.8 928,509.8 L951.5,511.5 V533.6 Z" fill="#fff" stroke="#333" stroke-width="1.2" /><circle cx="935.6" cy="521.2" r="4.6" fill="#444" stroke="#222" stroke-width="1"/><line x1="933" y1="521.2" x2="938.2" y2="521.2" stroke="#fff" stroke-width="0.8"/><line x1="935.6" y1="518.6" x2="935.6" y2="523.8" stroke="#fff" stroke-width="0.8"/><path d="M923.8,652.8 L951.5,646 V670.5 H937 Q932.3,670.5 930.6,667 Z" fill="#fff" stroke="#333" stroke-width="1.2" /><circle cx="935.6" cy="658" r="4.6" fill="#444" stroke="#222" stroke-width="1"/><line x1="933" y1="658" x2="938.2" y2="658" stroke="#fff" stroke-width="0.8"/><line x1="935.6" y1="655.4" x2="935.6" y2="660.6" stroke="#fff" stroke-width="0.8"/><path d="M945.5,509 Q946.5,506.3 949.5,506.3 H952.5 Q955.5,506.3 956.5,509" fill="#888" stroke="#333" stroke-width="1.3" /><path d="M981.2,509 Q982.2,506.3 985.2,506.3 H988.2 Q991.2,506.3 992.2,509" fill="#888" stroke="#333" stroke-width="1.3" /><path d="M1017.5,509 Q1018.5,506.3 1021.5,506.3 H1024.5 Q1027.5,506.3 1028.5,509" fill="#888" stroke="#333" stroke-width="1.3" /><path d="M952.60,509.00 L952.60,531.00 L933.80,553.00 L933.80,627.00 L952.60,647.00 L952.60,670.50 L1029.37,670.50 L1029.37,620.00 L1011.02,600.00 L1011.02,580.00 L1029.37,558.00 L1029.37,509.00 Z" fill="#fff" stroke="none" stroke-width="0" /><path d="M961.13,518.00 L961.13,534.00 L942.38,556.00 L942.38,624.00 L961.13,644.00 L961.13,661.50" fill="none" stroke="#0a0a0a" stroke-width="4.2" stroke-linejoin="round"/><path d="M961.13,518.00 L961.13,534.00 L942.38,556.00 L942.38,624.00 L961.13,644.00 L961.13,661.50" fill="none" stroke="#555" stroke-width="0.8" stroke-linejoin="round"/><path d="M959.73,509 V518 M962.53,509 V518" fill="none" stroke="#222" stroke-width="1.2" /><path d="M959.73,661.5 V670.5 M962.53,661.5 V670.5" fill="none" stroke="#222" stroke-width="1.2" /><path d="M969.66,518.00 L969.66,537.00 L950.96,559.00 L950.96,621.00 L969.66,641.00 L969.66,661.50" fill="none" stroke="#0a0a0a" stroke-width="4.2" stroke-linejoin="round"/><path d="M969.66,518.00 L969.66,537.00 L950.96,559.00 L950.96,621.00 L969.66,641.00 L969.66,661.50" fill="none" stroke="#555" stroke-width="0.8" stroke-linejoin="round"/><path d="M968.26,509 V518 M971.06,509 V518" fill="none" stroke="#222" stroke-width="1.2" /><path d="M968.26,661.5 V670.5 M971.06,661.5 V670.5" fill="none" stroke="#222" stroke-width="1.2" /><path d="M978.19,518.00 L978.19,540.00 L959.54,562.00 L959.54,618.00 L978.19,638.00 L978.19,661.50" fill="none" stroke="#0a0a0a" stroke-width="4.2" stroke-linejoin="round"/><path d="M978.19,518.00 L978.19,540.00 L959.54,562.00 L959.54,618.00 L978.19,638.00 L978.19,661.50" fill="none" stroke="#555" stroke-width="0.8" stroke-linejoin="round"/><path d="M976.7900000000001,509 V518 M979.59,509 V518" fill="none" stroke="#222" stroke-width="1.2" /><path d="M976.7900000000001,661.5 V670.5 M979.59,661.5 V670.5" fill="none" stroke="#222" stroke-width="1.2" /><path d="M986.72,518.00 L986.72,543.00 L968.12,565.00 L968.12,615.00 L986.72,635.00 L986.72,661.50" fill="none" stroke="#0a0a0a" stroke-width="4.2" stroke-linejoin="round"/><path d="M986.72,518.00 L986.72,543.00 L968.12,565.00 L968.12,615.00 L986.72,635.00 L986.72,661.50" fill="none" stroke="#555" stroke-width="0.8" stroke-linejoin="round"/><path d="M985.32,509 V518 M988.12,509 V518" fill="none" stroke="#222" stroke-width="1.2" /><path d="M985.32,661.5 V670.5 M988.12,661.5 V670.5" fill="none" stroke="#222" stroke-width="1.2" /><path d="M995.25,518.00 L995.25,546.00 L976.70,568.00 L976.70,612.00 L995.25,632.00 L995.25,661.50" fill="none" stroke="#0a0a0a" stroke-width="4.2" stroke-linejoin="round"/><path d="M995.25,518.00 L995.25,546.00 L976.70,568.00 L976.70,612.00 L995.25,632.00 L995.25,661.50" fill="none" stroke="#555" stroke-width="0.8" stroke-linejoin="round"/><path d="M993.85,509 V518 M996.65,509 V518" fill="none" stroke="#222" stroke-width="1.2" /><path d="M993.85,661.5 V670.5 M996.65,661.5 V670.5" fill="none" stroke="#222" stroke-width="1.2" /><path d="M1003.78,518.00 L1003.78,549.00 L985.28,571.00 L985.28,609.00 L1003.78,629.00 L1003.78,661.50" fill="none" stroke="#0a0a0a" stroke-width="4.2" stroke-linejoin="round"/><path d="M1003.78,518.00 L1003.78,549.00 L985.28,571.00 L985.28,609.00 L1003.78,629.00 L1003.78,661.50" fill="none" stroke="#555" stroke-width="0.8" stroke-linejoin="round"/><path d="M1002.38,509 V518 M1005.18,509 V518" fill="none" stroke="#222" stroke-width="1.2" /><path d="M1002.38,661.5 V670.5 M1005.18,661.5 V670.5" fill="none" stroke="#222" stroke-width="1.2" /><path d="M1012.31,518.00 L1012.31,552.00 L993.86,574.00 L993.86,606.00 L1012.31,626.00 L1012.31,661.50" fill="none" stroke="#0a0a0a" stroke-width="4.2" stroke-linejoin="round"/><path d="M1012.31,518.00 L1012.31,552.00 L993.86,574.00 L993.86,606.00 L1012.31,626.00 L1012.31,661.50" fill="none" stroke="#555" stroke-width="0.8" stroke-linejoin="round"/><path d="M1010.9100000000001,509 V518 M1013.71,509 V518" fill="none" stroke="#222" stroke-width="1.2" /><path d="M1010.9100000000001,661.5 V670.5 M1013.71,661.5 V670.5" fill="none" stroke="#222" stroke-width="1.2" /><path d="M1020.84,518.00 L1020.84,555.00 L1002.44,577.00 L1002.44,603.00 L1020.84,623.00 L1020.84,661.50" fill="none" stroke="#0a0a0a" stroke-width="4.2" stroke-linejoin="round"/><path d="M1020.84,518.00 L1020.84,555.00 L1002.44,577.00 L1002.44,603.00 L1020.84,623.00 L1020.84,661.50" fill="none" stroke="#555" stroke-width="0.8" stroke-linejoin="round"/><path d="M1019.44,509 V518 M1022.24,509 V518" fill="none" stroke="#222" stroke-width="1.2" /><path d="M1019.44,661.5 V670.5 M1022.24,661.5 V670.5" fill="none" stroke="#222" stroke-width="1.2" /><path d="M952.60,509.00 L952.60,531.00 L933.80,553.00 L933.80,627.00 L952.60,647.00 L952.60,670.50" fill="none" stroke="#111" stroke-width="1.7" stroke-linejoin="round"/><path d="M1029.37,509.00 L1029.37,558.00 L1011.02,580.00 L1011.02,600.00 L1029.37,620.00 L1029.37,670.50" fill="none" stroke="#1a1a1a" stroke-width="1.4" stroke-linejoin="round"/><path d="M1031.37,509.00 L1031.37,558.00 L1013.02,580.00 L1013.02,600.00 L1031.37,620.00 L1031.37,670.50" fill="none" stroke="#444" stroke-width="0.9" /><g><path d="M973.2,528.5 Q972.8,522.5 978.3,521.6 Q981.5,521.4 983.2,523.2 L985.2,520.2 L987.6,520.8 L987.9,526.6 L993.8,532.3 L995.8,537.6 Q1000.6,539.5 1000.3,544 Q999.8,549.6 994,549.4 Q991.6,549.2 990.3,547.9 L986.6,545.3 L983.4,542.3 L979.2,538.4 L976.4,534.6 Q973.4,532 973.2,528.5 Z" fill="#fff" stroke="#111" stroke-width="1.7" stroke-linejoin="round"/><circle cx="978.6" cy="527.8" r="2.4" fill="#fff" stroke="#333" stroke-width="1"/><circle cx="994.5" cy="543.3" r="2.4" fill="#fff" stroke="#333" stroke-width="1"/></g><g transform="translate(0,1179.9) scale(1,-1)"><path d="M973.2,528.5 Q972.8,522.5 978.3,521.6 Q981.5,521.4 983.2,523.2 L985.2,520.2 L987.6,520.8 L987.9,526.6 L993.8,532.3 L995.8,537.6 Q1000.6,539.5 1000.3,544 Q999.8,549.6 994,549.4 Q991.6,549.2 990.3,547.9 L986.6,545.3 L983.4,542.3 L979.2,538.4 L976.4,534.6 Q973.4,532 973.2,528.5 Z" fill="#fff" stroke="#111" stroke-width="1.7" stroke-linejoin="round"/><circle cx="978.6" cy="527.8" r="2.4" fill="#fff" stroke="#333" stroke-width="1"/><circle cx="994.5" cy="543.3" r="2.4" fill="#fff" stroke="#333" stroke-width="1"/></g></g>
<line x1="1029.4" y1="509" x2="1052.8" y2="509" stroke="#444" stroke-width="1.2"/>
<line x1="1029.4" y1="519" x2="1052.8" y2="519" stroke="#555" stroke-width="1"/>
<line x1="1029.4" y1="660.6" x2="1052.8" y2="660.6" stroke="#555" stroke-width="1"/>
<line x1="1029.4" y1="670.5" x2="1052.8" y2="670.5" stroke="#444" stroke-width="1.2"/>
<line x1="923.8" y1="509" x2="1158.4" y2="509" stroke="#444" stroke-width="1.0"/>
<line x1="936" y1="670.5" x2="1146.2" y2="670.5" stroke="#444" stroke-width="1.0"/>
<line x1="946.3" y1="671.6" x2="955.8" y2="671.6" stroke="#222" stroke-width="2"/>
<line x1="972.4" y1="671.3" x2="979.6" y2="671.3" stroke="#555" stroke-width="1.2"/>
<line x1="923.7" y1="528" x2="923.7" y2="652" stroke="#555" stroke-width="1.0"/>
<rect x="918.6" y="536" width="4.6" height="27" rx="0.5" fill="none" stroke="#888" stroke-width="0.8"/>
<rect x="918.6" y="571" width="4.6" height="24" rx="0.5" fill="none" stroke="#888" stroke-width="0.8"/>
<rect x="918.6" y="598" width="4.6" height="15" rx="0.5" fill="none" stroke="#888" stroke-width="0.8"/>
<line x1="919.5" y1="536" x2="919.5" y2="541" stroke="#777" stroke-width="1.6"/>
<line x1="919.5" y1="563" x2="919.5" y2="570" stroke="#777" stroke-width="1.6"/>
<line x1="919.5" y1="592" x2="919.5" y2="598" stroke="#777" stroke-width="1.6"/>
<line x1="919.5" y1="606" x2="919.5" y2="613" stroke="#777" stroke-width="1.6"/>
<path d="M923.5,619.5 Q919.5,621 919.5,627.5 Q919.5,634 923.5,636" fill="none" stroke="#333" stroke-width="1.6" />
</svg>
</body></html>
